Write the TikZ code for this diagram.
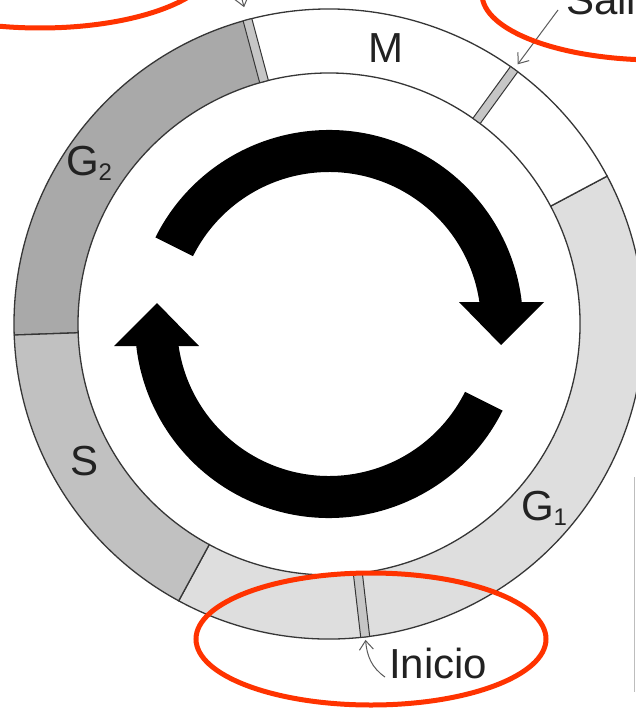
\documentclass[tikz,border=0pt]{standalone}
\usepackage{fontspec}
\setmainfont{Liberation Sans}
\usetikzlibrary{arrows.meta}
\definecolor{ringred}{RGB}{255,51,0}
\definecolor{ringgray}{HTML}{363636}
\definecolor{fillGtwo}{HTML}{A9A9A9}
\definecolor{fillS}{HTML}{C1C1C1}
\definecolor{fillGone}{HTML}{DEDEDE}
\definecolor{markfill}{HTML}{C6C6C6}
\definecolor{labelgray}{HTML}{222222}
\definecolor{leadergray}{HTML}{5A5A5A}
\definecolor{edgegray}{HTML}{BDBDBD}
\newcommand{\ringseg}[3]{%
  \filldraw[ringline, fill=#3] (#1:315pt) arc[start angle=#1, end angle=#2, radius=315pt]
    -- (#2:251pt) arc[start angle=#2, end angle=#1, radius=251pt] -- cycle;}
\newcommand{\ringmark}[1]{%
  \begin{scope}[rotate=#1]
    \filldraw[markbox] (251pt,-4.5pt) rectangle (315pt,4.5pt);
  \end{scope}}
\newcommand{\cyclearrow}{%
  \fill[bigarrow] (153.5:194pt) arc[start angle=153.5, end angle=6.5, radius=194pt]
    -- (8.3:152pt) arc[start angle=8.3, end angle=153.5, radius=152pt] -- cycle;
  \fill[bigarrow] (130pt,22pt) -- (215pt,22pt) -- (172pt,-21pt) -- cycle;}
\begin{document}
\begin{tikzpicture}[x=1pt,y=1pt,
  ringline/.style={draw=ringgray, line width=1.3pt},
  markbox/.style={draw=ringgray, line width=1pt, fill=markfill},
  lbl/.style={inner sep=0pt, outer sep=0pt, text=labelgray, font=\fontsize{42}{50}\selectfont, anchor=base west},
  leader/.style={draw=leadergray, line width=1pt, -{Straight Barb[length=9pt,width=14pt]}},
  redloop/.style={draw=ringred, line width=5pt},
  bigarrow/.style={fill=black}]
\useasboundingbox (0,0) rectangle (636,-709);
\fill[white] (0,0) rectangle (636,-709);

% ring
\begin{scope}[shift={(329,-324)}]
  \ringseg{241.5}{388}{fillGone}
  \ringseg{28}{105}{white}
  \ringseg{105}{182}{fillGtwo}
  \ringseg{182}{241.5}{fillS}
  \ringmark{276.6}
  \ringmark{54}
  \ringmark{105}
  \coordinate (inicioTip) at (276.6:318pt);
  \coordinate (salidaTip) at (54:321pt);
  \coordinate (topTip) at (105:328pt);
  \coordinate (topTail) at (105:370pt);
  % cycle arrows
  \cyclearrow
  \begin{scope}[rotate=180]
    \cyclearrow
  \end{scope}
\end{scope}

% labels
\node[lbl] (lblM) at (368,-63) {M};
\node[lbl] (lblGtwo) at (66,-175) {G\raisebox{-5pt}{\fontsize{24}{24}\selectfont 2}};
\node[lbl] (lblS) at (70,-475) {S};
\node[lbl] (lblGone) at (521,-520) {G\raisebox{-5pt}{\fontsize{24}{24}\selectfont 1}};
\node[lbl] (inicio) at (389,-678) {Inicio};
\node[lbl] (salida) at (566,-15) {Salida};

% leaders
\coordinate (inicioTail) at (385,-677);
\coordinate (salidaTail) at (558,-10);
\draw[leader] (inicioTail) to[out=145, in=-85] (inicioTip);
\draw[leader] (salidaTail) -- (salidaTip);
\draw[leader] (topTail) -- (topTip);

% right edge line
\draw[edgegray, line width=1.2pt] (634.5,-477) -- (634.5,-692);

% red highlight loops
\draw[redloop] (40,38) ellipse [x radius=175pt, y radius=66pt];
\draw[redloop] (657,6) ellipse [x radius=175pt, y radius=66pt];
\draw[redloop] (371,-639) ellipse [x radius=175pt, y radius=66pt];
\end{tikzpicture}
\end{document}
